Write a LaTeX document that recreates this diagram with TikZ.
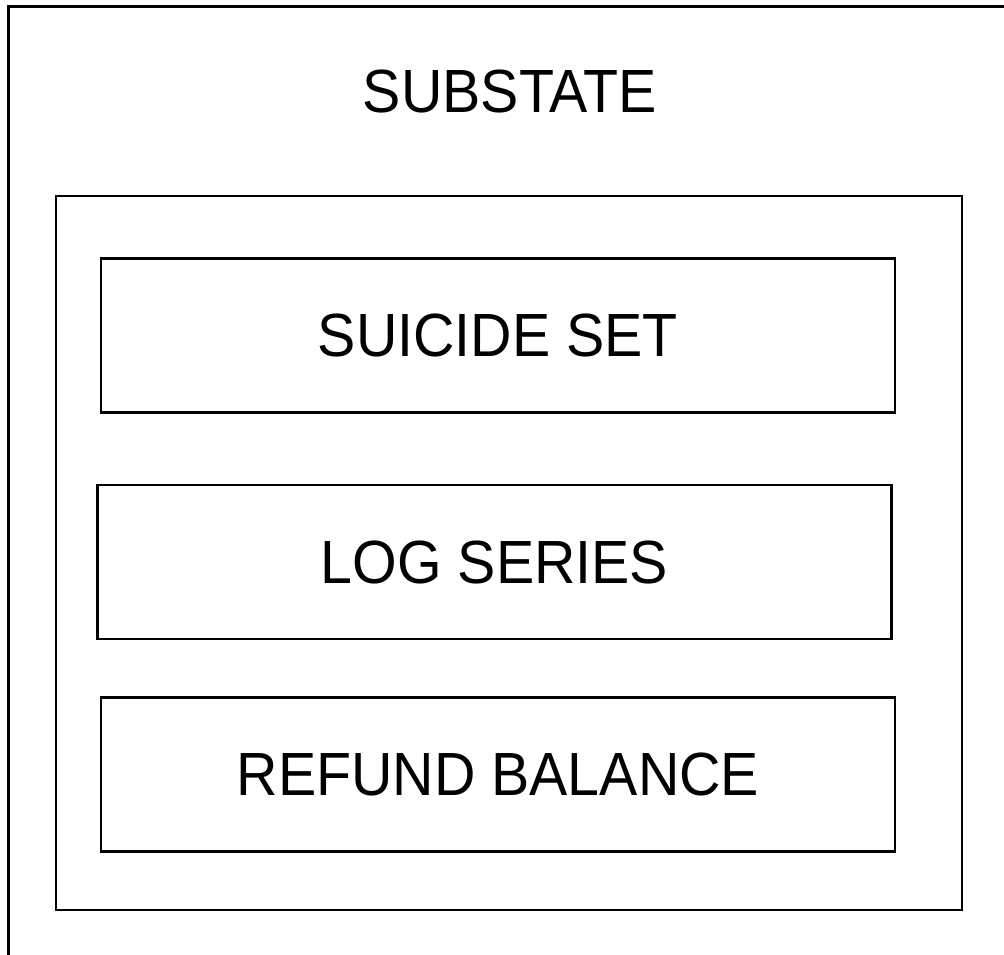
\documentclass[tikz,border=0pt]{standalone}
\usepackage{fontspec}
\setmainfont{Liberation Sans}[FakeStretch=0.94]
\begin{document}
\begin{tikzpicture}[x=1pt,y=-1pt,
  lbl/.style={font=\fontsize{61}{61}\selectfont, inner sep=0pt},
  frame/.style={draw=black, line width=2.8pt, rectangle, inner sep=0pt},
  item/.style={frame, minimum width=794pt, minimum height=154pt, font=\fontsize{61}{61}\selectfont}]
\useasboundingbox (0,0) rectangle (1004,955);
% outer frame (top and left edges)
\coordinate (otr) at (1010,6.5);
\coordinate (otl) at (8.5,6.5);
\coordinate (obl) at (8.5,960);
\draw[line width=3pt] (otr) -- (otl) -- (obl);
% title
\node[lbl] (title) at (510,92) {SUBSTATE};
% container
\node[frame, minimum width=906pt, minimum height=714pt] (container) at (509,553) {};
% items
\node[item] (suicide) at (498,335.5) {SUICIDE SET};
\node[item] (log) at (494.5,562) {LOG SERIES};
\node[item] (refund) at (498,774.5) {REFUND BALANCE};
\end{tikzpicture}
\end{document}
